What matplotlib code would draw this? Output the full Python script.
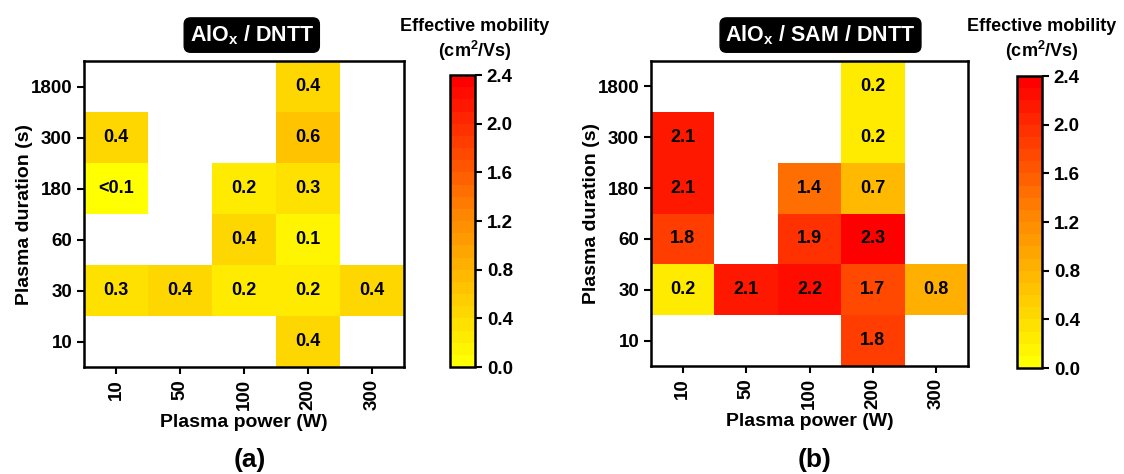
import numpy as np
import matplotlib.pyplot as plt
from matplotlib.colors import Normalize, LinearSegmentedColormap

plt.rcParams['font.family'] = ['Liberation Sans', 'DejaVu Sans']
plt.rcParams['font.weight'] = 'bold'
plt.rcParams['axes.labelweight'] = 'bold'

nan = np.nan
power = ['10', '50', '100', '200', '300']
duration = ['10', '30', '60', '180', '300', '1800']

# rows follow duration (bottom to top), columns follow power
mob_a = np.array([
    [nan, nan, nan, 0.4, nan],
    [0.3, 0.4, 0.2, 0.2, 0.4],
    [nan, nan, 0.4, 0.1, nan],
    [0.05, nan, 0.2, 0.3, nan],
    [0.4, nan, nan, 0.6, nan],
    [nan, nan, nan, 0.4, nan],
])
mob_b = np.array([
    [nan, nan, nan, 1.8, nan],
    [0.2, 2.1, 2.2, 1.7, 0.8],
    [1.8, nan, 1.9, 2.3, nan],
    [2.1, nan, 1.4, 0.7, nan],
    [2.1, nan, nan, 0.2, nan],
    [nan, nan, nan, 0.2, nan],
])
titles = ['AlO$_\\mathregular{x}$ / DNTT', 'AlO$_\\mathregular{x}$ / SAM / DNTT']
panels = ['(a)', '(b)']
cb_ticks = [0.0, 0.4, 0.8, 1.2, 1.6, 2.0, 2.4]

# yellow -> orange -> red, in 24 steps
ramp = LinearSegmentedColormap.from_list(
    'yor', [(0.0, '#ffff00'), (0.5, '#ff8c00'), (1.0, '#ff0000')])
cmap = ramp.resampled(24)
norm = Normalize(0, 2.4)

fig = plt.figure(figsize=(11.24, 4.74), dpi=100)
ax_pos = [[0.0747, 0.2257, 0.2847, 0.6456], [0.5792, 0.2278, 0.282, 0.6435]]
cb_pos = [[0.4004, 0.2257, 0.0222, 0.616], [0.9048, 0.2236, 0.0222, 0.616]]
title_x = [0.224, 0.730]
cbt_x = [0.4226, 0.927]
lab_x = [0.222, 0.725]

for k, data in enumerate([mob_a, mob_b]):
    ax = fig.add_axes(ax_pos[k])
    mesh = ax.pcolormesh(np.ma.masked_invalid(data), cmap=cmap, norm=norm)
    for i in range(data.shape[0]):
        for j in range(data.shape[1]):
            v = data[i, j]
            if np.isnan(v):
                continue
            txt = '<0.1' if v < 0.1 else f'{v:.1f}'
            ax.text(j + 0.5, i + 0.5, txt, ha='center', va='center',
                    fontsize=13, fontweight='bold')
    ax.set_xticks(np.arange(len(power)) + 0.5)
    ax.set_xticklabels(power, rotation=90)
    ax.set_yticks(np.arange(len(duration)) + 0.5)
    ax.set_yticklabels(duration)
    ax.tick_params(labelsize=13.5, width=1.5, length=5)
    for s in ax.spines.values():
        s.set_linewidth(1.8)
    ax.set_xlabel('Plasma power (W)', fontsize=14, labelpad=3)
    ax.set_ylabel('Plasma duration (s)', fontsize=14, labelpad=-2)

    fig.text(title_x[k], 0.926, titles[k], ha='center', va='center',
             color='white', fontsize=15.5, fontweight='bold',
             bbox=dict(boxstyle='round,pad=0.25,rounding_size=0.3',
                       fc='black', ec='black'))
    fig.text(lab_x[k], 0.03, panels[k], ha='center', va='center',
             fontsize=19, fontweight='bold')

    cax = fig.add_axes(cb_pos[k])
    cb = fig.colorbar(mesh, cax=cax, ticks=cb_ticks)
    cb.ax.set_yticklabels([f'{t:.1f}' for t in cb_ticks])
    cb.ax.tick_params(labelsize=13.5, width=1.5, length=5)
    cb.outline.set_linewidth(1.8)
    fig.text(cbt_x[k], 0.914, 'Effective mobility\n(cm$^\\mathregular{2}$/Vs)',
             ha='center', va='center', fontsize=13, fontweight='bold',
             linespacing=1.2)

fig.savefig('out.png', dpi=100)
